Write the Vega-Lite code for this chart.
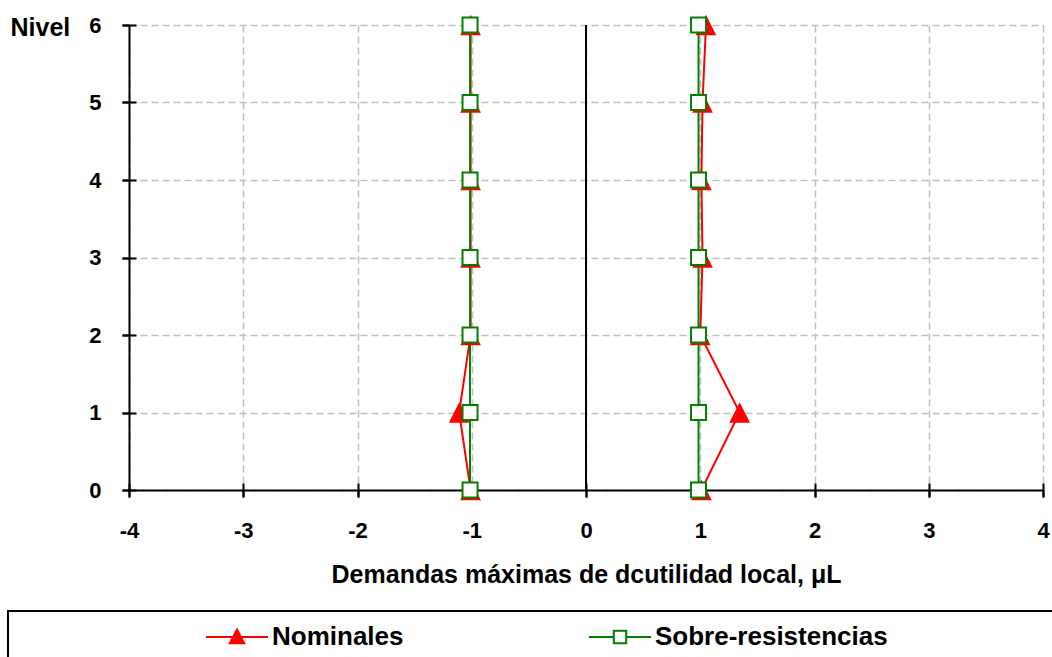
{
  "$schema": "https://vega.github.io/schema/vega-lite/v6.json",
  "width": 914,
  "height": 465,
  "autosize": {"type": "none"},
  "padding": {"left": 129, "top": 25, "right": 9, "bottom": 167},
  "background": "white",
  "config": {
    "view": {"stroke": null},
    "font": "Liberation Sans"
  },
  "data": {
    "values": [
      {"serie": "Nominales", "lado": "izq", "nivel": 0, "mu": -1.01},
      {"serie": "Nominales", "lado": "izq", "nivel": 1, "mu": -1.11},
      {"serie": "Nominales", "lado": "izq", "nivel": 2, "mu": -1.01},
      {"serie": "Nominales", "lado": "izq", "nivel": 3, "mu": -1.01},
      {"serie": "Nominales", "lado": "izq", "nivel": 4, "mu": -1.01},
      {"serie": "Nominales", "lado": "izq", "nivel": 5, "mu": -1.01},
      {"serie": "Nominales", "lado": "izq", "nivel": 6, "mu": -1.01},
      {"serie": "Nominales", "lado": "der", "nivel": 0, "mu": 1.01},
      {"serie": "Nominales", "lado": "der", "nivel": 1, "mu": 1.345},
      {"serie": "Nominales", "lado": "der", "nivel": 2, "mu": 1.0},
      {"serie": "Nominales", "lado": "der", "nivel": 3, "mu": 1.02},
      {"serie": "Nominales", "lado": "der", "nivel": 4, "mu": 1.01},
      {"serie": "Nominales", "lado": "der", "nivel": 5, "mu": 1.02},
      {"serie": "Nominales", "lado": "der", "nivel": 6, "mu": 1.05},
      {"serie": "Sobre-resistencias", "lado": "izq", "nivel": 0, "mu": -1.015},
      {"serie": "Sobre-resistencias", "lado": "izq", "nivel": 1, "mu": -1.015},
      {"serie": "Sobre-resistencias", "lado": "izq", "nivel": 2, "mu": -1.015},
      {"serie": "Sobre-resistencias", "lado": "izq", "nivel": 3, "mu": -1.015},
      {"serie": "Sobre-resistencias", "lado": "izq", "nivel": 4, "mu": -1.015},
      {"serie": "Sobre-resistencias", "lado": "izq", "nivel": 5, "mu": -1.015},
      {"serie": "Sobre-resistencias", "lado": "izq", "nivel": 6, "mu": -1.015},
      {"serie": "Sobre-resistencias", "lado": "der", "nivel": 0, "mu": 0.985},
      {"serie": "Sobre-resistencias", "lado": "der", "nivel": 1, "mu": 0.985},
      {"serie": "Sobre-resistencias", "lado": "der", "nivel": 2, "mu": 0.985},
      {"serie": "Sobre-resistencias", "lado": "der", "nivel": 3, "mu": 0.985},
      {"serie": "Sobre-resistencias", "lado": "der", "nivel": 4, "mu": 0.985},
      {"serie": "Sobre-resistencias", "lado": "der", "nivel": 5, "mu": 0.985},
      {"serie": "Sobre-resistencias", "lado": "der", "nivel": 6, "mu": 0.985}
    ]
  },
  "layer": [
    {
      "mark": {"type": "rule", "color": "black", "strokeWidth": 2},
      "encoding": {
        "x": {
          "datum": 0,
          "type": "quantitative",
          "scale": {"domain": [-4, 4], "nice": false, "zero": false},
          "axis": {
            "orient": "bottom",
            "offset": -7,
            "values": [-4, -3, -2, -1, 0, 1, 2, 3, 4],
            "domain": false,
            "labels": false,
            "grid": false,
            "title": null,
            "ticks": true,
            "tickSize": 14,
            "tickWidth": 2,
            "tickColor": "black"
          }
        }
      }
    },
    {
      "mark": {"type": "line", "strokeWidth": 2},
      "encoding": {
        "x": {
          "field": "mu",
          "type": "quantitative",
          "scale": {"domain": [-4, 4], "nice": false, "zero": false},
          "axis": {
            "orient": "bottom",
            "values": [-4, -3, -2, -1, 0, 1, 2, 3, 4],
            "labelExpr": "'' + datum.value",
            "domainColor": "black",
            "domainWidth": 2,
            "tickColor": "black",
            "tickWidth": 2,
            "tickSize": 7,
            "grid": true,
            "gridColor": "#c0c0c0",
            "gridWidth": 1.5,
            "gridDash": [7, 4],
            "labelFont": "Liberation Sans",
            "labelFontSize": 22,
            "labelFontWeight": "bold",
            "labelColor": "black",
            "labelPadding": 23,
            "labelFlush": false,
            "title": "Demandas máximas de dcutilidad local, μL",
            "titleFont": "Liberation Sans",
            "titleFontSize": 25,
            "titleFontWeight": "bold",
            "titleColor": "black",
            "titlePadding": 21
          }
        },
        "y": {
          "field": "nivel",
          "type": "quantitative",
          "scale": {"domain": [0, 6], "nice": false},
          "axis": {
            "orient": "left",
            "values": [0, 1, 2, 3, 4, 5, 6],
            "labelExpr": "'' + datum.value",
            "domainColor": "black",
            "domainWidth": 2,
            "tickColor": "black",
            "tickWidth": 2,
            "tickSize": 7,
            "grid": true,
            "gridColor": "#c0c0c0",
            "gridWidth": 1.5,
            "gridDash": [7, 4],
            "labelFont": "Liberation Sans",
            "labelFontSize": 22,
            "labelFontWeight": "bold",
            "labelColor": "black",
            "labelPadding": 21,
            "labelFlush": false,
            "title": "Nivel",
            "titleFont": "Liberation Sans",
            "titleFontSize": 25,
            "titleFontWeight": "bold",
            "titleColor": "black",
            "titleAngle": 0,
            "titleAlign": "left",
            "titleBaseline": "middle",
            "titleX": -119,
            "titleY": 2
          }
        },
        "color": {
          "field": "serie",
          "type": "nominal",
          "scale": {"domain": ["Nominales", "Sobre-resistencias"], "range": ["#ff0000", "#008000"]},
          "legend": {
            "orient": "none",
            "legendX": -121,
            "legendY": 586,
            "direction": "horizontal",
            "title": " ",
            "titleOrient": "right",
            "titlePadding": 200,
            "titleFontSize": 25,
            "padding": 13,
            "fillColor": "white",
            "strokeColor": "black",
            "symbolSize": 427,
            "symbolOffset": 203,
            "labelOffset": 22,
            "columnPadding": -3,
            "labelFont": "Liberation Sans",
            "labelFontSize": 26,
            "labelFontWeight": "bold",
            "labelColor": "black",
            "labelLimit": 400,
            "encode": {
              "legend": {"update": {"strokeWidth": {"value": 2}}},
              "symbols": {
                "update": {
                  "shape": {"signal": "datum.value === 'Nominales' ? 'M-3,0H3M0,-0.72L0.7,0.6L-0.7,0.6Z' : 'M-3,0H-0.6M0.6,0H3M-0.6,-0.6H0.6V0.6H-0.6Z'"},
                  "fill": {"signal": "datum.value === 'Nominales' ? '#ff0000' : '#ffffff'"},
                  "stroke": {"signal": "datum.value === 'Nominales' ? '#ff0000' : '#008000'"},
                  "strokeWidth": {"value": 2},
                  "size": {"value": 427},
                  "opacity": {"value": 1},
                  "fillOpacity": {"value": 1},
                  "strokeOpacity": {"value": 1}
                }
              }
            }
          }
        },
        "detail": {"field": "lado", "type": "nominal"},
        "order": {"field": "nivel", "type": "quantitative"}
      }
    },
    {
      "transform": [{"filter": "datum.serie === 'Nominales'"}],
      "mark": {"type": "point", "shape": "M0,-1L1,1L-1,1Z", "filled": true, "color": "#ff0000", "size": 428, "opacity": 1},
      "encoding": {
        "x": {"field": "mu", "type": "quantitative", "axis": null},
        "y": {"field": "nivel", "type": "quantitative", "axis": null}
      }
    },
    {
      "transform": [{"filter": "datum.serie === 'Sobre-resistencias'"}],
      "mark": {"type": "point", "shape": "square", "filled": false, "fill": "#ffffff", "stroke": "#008000", "strokeWidth": 2, "size": 225, "opacity": 1, "fillOpacity": 1},
      "encoding": {
        "x": {"field": "mu", "type": "quantitative", "axis": null},
        "y": {
          "field": "nivel",
          "type": "quantitative",
          "axis": {
            "orient": "left",
            "offset": -7,
            "values": [0, 1, 2, 3, 4, 5, 6],
            "domain": false,
            "labels": false,
            "grid": false,
            "title": null,
            "ticks": true,
            "tickSize": 14,
            "tickWidth": 2,
            "tickColor": "black"
          }
        }
      }
    }
  ],
  "resolve": {"axis": {"x": "independent", "y": "independent"}}
}
